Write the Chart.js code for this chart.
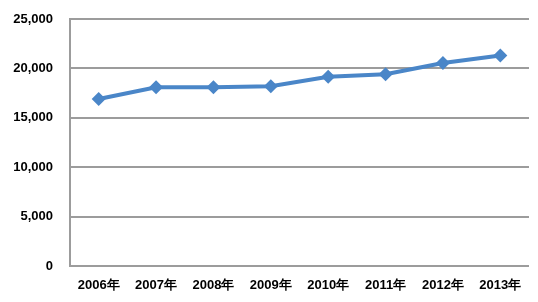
<!DOCTYPE html>
<html>
<head>
<meta charset="utf-8">
<script src="https://cdn.jsdelivr.net/npm/chart.js@4"></script>
<style>
  html, body { margin: 0; padding: 0; background: #fff; }
  #wrap { width: 538px; height: 302px; }
</style>
</head>
<body>
<div id="wrap"><canvas id="chart"></canvas></div>
<script>
// ── Data ───────────────────────────────────────────────────────
const years = ['2006年', '2007年', '2008年', '2009年', '2010年', '2011年', '2012年', '2013年'];
const values = [16900, 18100, 18100, 18200, 19150, 19400, 20550, 21300];
const yTicks = [0, 5000, 10000, 15000, 20000, 25000];

const blue = '#4a86c8';
const gridGray = '#9c9c9c';
const tickFont = { family: '"Liberation Sans", Arial, sans-serif', size: 13, weight: 'bold' };

// ── Chart ──────────────────────────────────────────────────────
new Chart(document.getElementById('chart'), {
  type: 'line',
  data: {
    labels: years,
    datasets: [{
      data: values,
      borderColor: blue,
      backgroundColor: blue,
      borderWidth: 4,
      pointStyle: 'rectRot',
      pointRadius: 7,
      pointBorderWidth: 0,
      tension: 0,
    }]
  },
  options: {
    responsive: true,
    maintainAspectRatio: false,
    animation: false,
    layout: { autoPadding: false, padding: { top: 19, right: 9, left: 0, bottom: 0 } },
    plugins: { legend: { display: false }, tooltip: { enabled: false } },
    scales: {
      x: {
        offset: true,
        grid: { display: false, drawTicks: false },
        border: { display: false },
        ticks: { color: '#000', font: tickFont, padding: 12, maxRotation: 0, autoSkip: false },
        afterFit: s => { s.height = 36; s.paddingLeft = 0; s.paddingRight = 0; }
      },
      y: {
        min: 0,
        max: 25000,
        afterBuildTicks: s => { s.ticks = yTicks.map(v => ({ value: v })); },
        grid: { color: gridGray, lineWidth: 2, drawTicks: false },
        border: { display: true, color: gridGray, width: 2 },
        ticks: {
          color: '#000',
          font: tickFont,
          padding: 17,
          callback: v => v.toLocaleString('en-US')
        },
        // tick padding also pads the top edge; drop that so layout padding rules
        afterFit: s => { s.width = 70; s.paddingTop = 0; s.paddingBottom = 0; }
      }
    }
  }
});
</script>
</body>
</html>
